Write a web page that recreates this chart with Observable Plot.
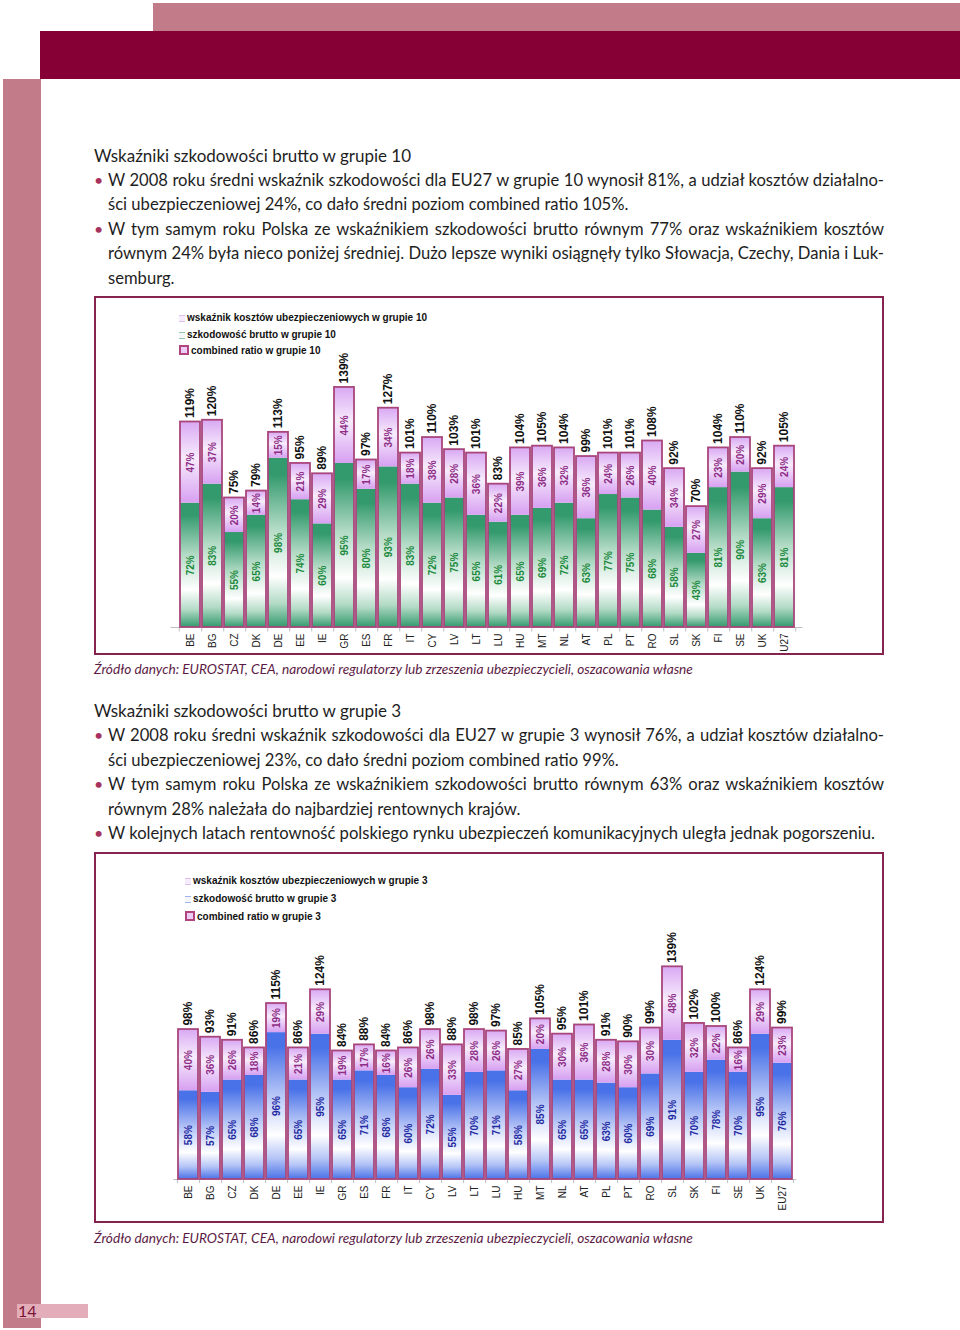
<!DOCTYPE html>
<html><head><meta charset="utf-8">
<script src="https://cdn.jsdelivr.net/npm/d3@7"></script>
<script src="https://cdn.jsdelivr.net/npm/@observablehq/plot@0.6"></script>
<style>
html,body{margin:0;padding:0;background:#fff;}
#page{position:relative;width:960px;height:1330px;overflow:hidden;font-family:Lato,"Open Sans",sans-serif;color:#1e1e1e;}
.abs{position:absolute;}
.line{position:absolute;left:108px;width:776px;height:24px;line-height:24px;font-size:16.6px;white-space:nowrap;}
.just{text-align:justify;text-align-last:justify;white-space:normal;}
.head{position:absolute;left:94px;height:24px;line-height:24px;font-size:17px;white-space:nowrap;}
.bul{position:absolute;left:94px;width:10px;height:24px;line-height:24px;font-size:16px;color:#a8325e;}
.cap{position:absolute;left:94px;font-size:13.7px;font-style:italic;color:#5c1b45;white-space:nowrap;line-height:18px;}
.frame{position:absolute;border:2px solid #86244f;box-sizing:border-box;pointer-events:none;}
.leg{position:absolute;font-family:"Liberation Sans",Arial,sans-serif;font-weight:bold;font-size:10px;color:#111;white-space:nowrap;line-height:12px;}
.leg i{display:inline-block;vertical-align:-1px;margin-right:2px;}
</style></head>
<body><div id="page">
<div class="abs" style="left:153px;top:3px;width:807px;height:28px;background:#c27b89"></div>
<div class="abs" style="left:40px;top:31px;width:920px;height:48px;background:#860036"></div>
<div class="abs" style="left:3px;top:79px;width:38px;height:1249px;background:#c27b89"></div>
<div class="abs" style="left:17px;top:1304px;width:71px;height:14px;background:#e3adba"></div>
<div class="abs" style="left:18px;top:1302px;font-size:16px;line-height:18px;color:#7a1436;font-family:Lato,sans-serif">14</div>
<div id="text"></div>
<div class="abs" id="c1" style="left:96px;top:298px;width:786px;height:354px;overflow:hidden"></div>
<div class="frame" style="left:94px;top:296px;width:790px;height:359px"></div>
<div class="abs" id="c2" style="left:96px;top:854px;width:786px;height:366px;overflow:hidden"></div>
<div class="frame" style="left:94px;top:852px;width:790px;height:371px"></div>
<div class="cap" style="top:660px">Źródło danych: EUROSTAT, CEA, narodowi regulatorzy lub zrzeszenia ubezpieczycieli, oszacowania własne</div>
<div class="cap" style="top:1229px">Źródło danych: EUROSTAT, CEA, narodowi regulatorzy lub zrzeszenia ubezpieczycieli, oszacowania własne</div>
<div id="legends"></div>
</div>
<script>
// ---- data ----
const countries = ["BE","BG","CZ","DK","DE","EE","IE","GR","ES","FR","IT","CY","LV","LT","LU","HU","MT","NL","AT","PL","PT","RO","SL","SK","FI","SE","UK","EU27"];
// grupa 10
const claims10   = [72,83,55,65,98,74,60,95,80,93,83,72,75,65,61,65,69,72,63,77,75,68,58,43,81,90,63,81];
const costs10    = [47,37,20,14,15,21,29,44,17,34,18,38,28,36,22,39,36,32,36,24,26,40,34,27,23,20,29,24];
const combined10 = [119,120,75,79,113,95,89,139,97,127,101,110,103,101,83,104,105,104,99,101,101,108,92,70,104,110,92,105];
// grupa 3
const claims3    = [58,57,65,68,96,65,95,65,71,68,60,72,55,70,71,58,85,65,65,63,60,69,91,70,78,70,95,76];
const costs3     = [40,36,26,18,19,21,29,19,17,16,26,26,33,28,26,27,20,30,36,28,30,30,48,32,22,16,29,23];
const combined3  = [98,93,91,86,115,86,124,84,88,84,86,98,88,98,97,85,105,95,101,91,90,99,139,102,100,86,124,99];

const legend10 = ["wskaźnik kosztów ubezpieczeniowych w grupie 10","szkodowość brutto w grupie 10","combined ratio w grupie 10"];
const legend3  = ["wskaźnik kosztów ubezpieczeniowych w grupie 3","szkodowość brutto w grupie 3","combined ratio w grupie 3"];

const text1 = [
  ["h","Wskaźniki szkodowości brutto w grupie 10"],
  ["bj","W 2008 roku średni wskaźnik szkodowości dla EU27 w grupie 10 wynosił 81%, a udział kosztów działalno-"],
  ["n","ści ubezpieczeniowej 24%, co dało średni poziom combined ratio 105%."],
  ["bj","W tym samym roku Polska ze wskaźnikiem szkodowości brutto równym 77% oraz wskaźnikiem kosztów"],
  ["j","równym 24% była nieco poniżej średniej. Dużo lepsze wyniki osiągnęły tylko Słowacja, Czechy, Dania i Luk-"],
  ["n","semburg."]
];
const text2 = [
  ["h","Wskaźniki szkodowości brutto w grupie 3"],
  ["bj","W 2008 roku średni wskaźnik szkodowości dla EU27 w grupie 3 wynosił 76%, a udział kosztów działalno-"],
  ["n","ści ubezpieczeniowej 23%, co dało średni poziom combined ratio 99%."],
  ["bj","W tym samym roku Polska ze wskaźnikiem szkodowości brutto równym 63% oraz wskaźnikiem kosztów"],
  ["n","równym 28% należała do najbardziej rentownych krajów."],
  ["b","W kolejnych latach rentowność polskiego rynku ubezpieczeń komunikacyjnych uległa jednak pogorszeniu."]
];

// ---- text ----
const tdiv = document.getElementById("text");
function writeText(lines, y0){
  lines.forEach(([k,t],i)=>{
    const cy = y0 + i*24.4;
    const d = document.createElement("div");
    d.textContent = t;
    if(k==="h"){ d.className="head"; }
    else { d.className = "line" + (k.includes("j")?" just":""); }
    d.style.top = (cy-12)+"px";
    tdiv.appendChild(d);
    if(k.includes("b")){
      const b=document.createElement("div"); b.className="bul"; b.textContent="•"; b.style.top=(cy-12)+"px"; tdiv.appendChild(b);
    }
  });
}
writeText(text1,155.5);
writeText(text2,711);

// ---- legends ----
const ldiv = document.getElementById("legends");
function writeLegend(labels, x, ys, midColor){
  const icons = [
    `<i style="width:6px;height:5px;border-top:1px solid #dcc0ee;border-bottom:1px solid #dcc0ee;background:#f6ecfb"></i>`,
    `<i style="width:6px;height:5px;border-top:1px solid ${midColor};border-bottom:1px solid ${midColor};background:#f4f6f8"></i>`,
    `<i style="width:6px;height:6px;border:2px solid #b2457e;background:#eccdf8"></i>`
  ];
  labels.forEach((t,i)=>{
    const d=document.createElement("div"); d.className="leg";
    d.style.left=x+"px"; d.style.top=(ys[i]-6)+"px";
    d.innerHTML = icons[i] + t.replace(/&/g,"&amp;");
    ldiv.appendChild(d);
  });
}
writeLegend(legend10, 179, [318,334.5,351], "#8fc7aa");
writeLegend(legend3, 185, [881,899,917], "#9fb2ee");

// ---- charts ----
function gradDefs(svg, id, c, mid){
  const defs = d3.select(svg).insert("defs",":first-child");
  const g = defs.append("linearGradient").attr("id",id).attr("x1",0).attr("y1",0).attr("x2",0).attr("y2",1);
  [[0,c],[0.1,c],[0.42,mid],[0.7,"#ffffff"],[0.86,mid],[1,c]].forEach(([o,col])=>g.append("stop").attr("offset",o).attr("stop-color",col));
  const p = defs.append("linearGradient").attr("id",id+"p").attr("x1",0).attr("y1",0).attr("x2",0).attr("y2",1);
  [[0,"#d9a8f3"],[0.45,"#f7ecfc"],[1,"#d7a0f1"]].forEach(([o,col])=>p.append("stop").attr("offset",o).attr("stop-color",col));
}

function makeChart(el, claims, costs, combined, opt){
  const data = countries.map((c,i)=>({c, g:claims[i], p:costs[i], t:combined[i]}));
  const step = opt.step;
  const svg = Plot.plot({
    width: 786, height: opt.height,
    marginLeft: opt.ml, marginRight: opt.mr, marginTop: opt.mt, marginBottom: opt.mb,
    style: {background:"white", overflow:"hidden", fontFamily:"'Liberation Sans', Arial, sans-serif"},
    x: {type:"band", domain: countries, padding: 0.1, axis: null},
    y: {domain:[0,160], axis: null},
    marks: [
      Plot.ruleY([0], {stroke:"#bdbdbd", strokeWidth:1}),
      Plot.ruleX(countries, {x: d=>d, dx: step/2, y1: 0, y2: -2.6, stroke:"#bdbdbd"}),
      Plot.ruleX([countries[0]], {x: d=>d, dx: -step/2, y1: 0, y2: -2.6, stroke:"#bdbdbd"}),
      Plot.barY(data, {x:"c", y1:0, y2:"g", fill:`url(#${opt.id})`}),
      Plot.barY(data, {x:"c", y1:"g", y2:d=>d.g+d.p, fill:`url(#${opt.id}p)`}),
      Plot.barY(data, {x:"c", y1:0, y2:"t", fill:"none", stroke:"#a8467c", strokeWidth:1.8}),
      Plot.text(data, {x:"c", y:d=>d.g/2, text:d=>d.g+"%", rotate:-90, fill:opt.labelColor, fontWeight:"bold", fontSize:10}),
      Plot.text(data, {x:"c", y:d=>d.g+d.p/2, text:d=>d.p+"%", rotate:-90, fill:"#8e2c86", fontWeight:"bold", fontSize:10}),
      Plot.text(data, {x:"c", y:"t", text:d=>d.t+"%", rotate:-90, textAnchor:"start", dy:-4, fill:"#111", fontWeight:"bold", fontSize:12}),
      Plot.text(data, {x:"c", y:0, text:"c", rotate:-90, textAnchor:"end", dy:opt.catDy, fill:"#222", fontSize:10})
    ]
  });
  gradDefs(svg, opt.id, opt.base, opt.mid);
  document.getElementById(el).appendChild(svg);
}

// chart 1: BE centre at page x 183, EU27 at 790 -> step 22.48
makeChart("c1", claims10, costs10, combined10, {
  id:"gr10", height:354, ml:74.6, mr:79.6, mt:52.7, mb:25, step:22.48, catDy:6,
  base:"#339a6d", mid:"#b3dbc6", labelColor:"#1b8a3c"
});
// chart 2: BE centre at 185.5, EU27 at 784 -> step 22.17
makeChart("c2", claims3, costs3, combined3, {
  id:"gr3", height:366, ml:77.3, mr:85.8, mt:80.2, mb:41, step:22.17, catDy:6,
  base:"#4a72e8", mid:"#b4c4f6", labelColor:"#1f2aa2"
});
</script>
</body></html>
